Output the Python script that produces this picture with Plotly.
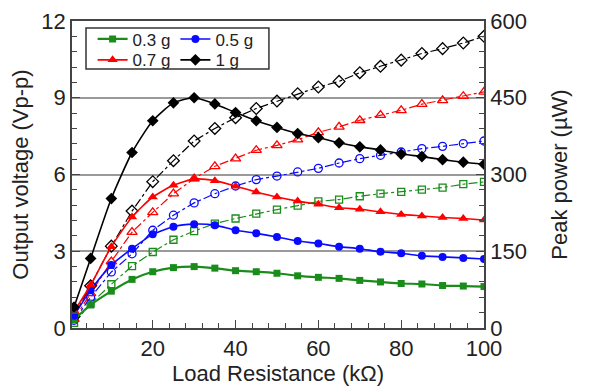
import plotly.graph_objects as go

# Load resistance (kOhm)
x_load = [1, 5, 10, 15, 20, 25, 30, 35, 40, 45, 50, 55, 60, 65, 70, 75, 80, 85, 90, 95, 100]

# Peak power (uW), solid markers, right axis
power_03 = [16, 45, 72, 95, 110, 118, 120, 117, 112, 110, 107, 102, 99, 97, 93, 90, 87, 86, 83, 82, 81]
power_05 = [24, 74, 123, 155, 183, 198, 203, 201, 191, 185, 178, 170, 165, 159, 155, 149, 146, 141, 139, 137, 135]
power_07 = [32, 84, 159, 217, 256, 279, 291, 288, 277, 266, 256, 248, 242, 235, 232, 227, 222, 219, 216, 214, 211]
power_10 = [41, 136, 253, 343, 405, 440, 450, 438, 421, 405, 392, 380, 372, 362, 354, 348, 340, 335, 329, 324, 320]

# Output voltage (Vp-p), open markers, left axis
volt_03 = [0.20, 0.95, 1.71, 2.42, 2.97, 3.45, 3.79, 4.08, 4.28, 4.47, 4.63, 4.78, 4.95, 5.02, 5.15, 5.25, 5.32, 5.41, 5.49, 5.62, 5.71]
volt_05 = [0.30, 1.20, 2.19, 2.90, 3.82, 4.41, 4.89, 5.25, 5.55, 5.80, 5.94, 6.10, 6.24, 6.45, 6.62, 6.75, 6.88, 7.01, 7.10, 7.21, 7.31]
volt_07 = [0.35, 1.35, 2.60, 3.75, 4.52, 5.25, 5.84, 6.32, 6.62, 6.95, 7.14, 7.36, 7.65, 7.86, 8.12, 8.32, 8.51, 8.75, 8.90, 9.06, 9.23]
volt_10 = [0.45, 1.65, 3.20, 4.57, 5.72, 6.54, 7.31, 7.80, 8.22, 8.58, 8.87, 9.16, 9.42, 9.64, 9.98, 10.23, 10.47, 10.73, 10.92, 11.14, 11.40]

labels = ["0.3 g", "0.5 g", "0.7 g", "1 g"]
colors = ["#1a8c1a", "#0a0aff", "#ff0000", "#000000"]
sym_solid = ["square", "circle", "triangle-up", "diamond"]
sym_open = ["square-open", "circle-open", "triangle-up-open", "diamond-open"]
msize = [7, 8, 9, 9]
legend_ids = ["legend", "legend", "legend2", "legend2"]

powers = [power_03, power_05, power_07, power_10]
volts = [volt_03, volt_05, volt_07, volt_10]

FONT = "Liberation Sans, Arial, sans-serif"
fig = go.Figure()

for i in range(4):
    fig.add_trace(go.Scatter(
        x=x_load, y=volts[i], mode="lines+markers", yaxis="y", showlegend=False,
        line=dict(color=colors[i], width=1.2, dash="dashdot"),
        marker=dict(symbol=sym_open[i], size=msize[i], color=colors[i], line=dict(width=1.3, color=colors[i])),
    ))

for i in range(4):
    fig.add_trace(go.Scatter(
        x=x_load, y=powers[i], mode="lines+markers", yaxis="y2", name=labels[i],
        legend=legend_ids[i],
        line=dict(color=colors[i], width=2.2 if i == 0 else 1.6, shape="spline", smoothing=0.6),
        marker=dict(symbol=sym_solid[i], size=msize[i], color=colors[i]),
    ))

axis_col = "#444444"
tickfont = dict(family=FONT, size=22, color="#222222")
titlefont = dict(family=FONT, size=22, color="#222222")

fig.update_layout(
    width=583, height=381,
    margin=dict(l=64, r=107, t=13, b=61),
    plot_bgcolor="white", paper_bgcolor="white",
    font=dict(family=FONT, color="#222222"),
    xaxis=dict(
        range=[0.5, 100], tickvals=[20, 40, 60, 80, 100], automargin=False,
        ticks="inside", ticklen=8, tickwidth=1.3, tickcolor=axis_col,
        minor=dict(dtick=4, tick0=0, ticks="inside", ticklen=5, tickwidth=1.2, tickcolor=axis_col),
        showline=True, linecolor=axis_col, linewidth=1.6, mirror=True,
        showgrid=False, zeroline=False, tickfont=tickfont,
        title=dict(text="Load Resistance (kΩ)", font=titlefont, standoff=0),
    ),
    yaxis=dict(
        range=[0, 12], tickvals=[0, 3, 6, 9, 12], automargin=False,
        ticks="inside", ticklen=8, tickwidth=1.3, tickcolor=axis_col,
        minor=dict(dtick=0.6, tick0=0, ticks="inside", ticklen=5, tickwidth=1.2, tickcolor=axis_col, showgrid=False),
        showline=True, linecolor=axis_col, linewidth=1.6,
        showgrid=True, gridcolor="#9a9a9a", gridwidth=1.5, zeroline=False, tickfont=tickfont,
        title=dict(text="Output voltage (Vp-p)", font=titlefont, standoff=13),
    ),
    yaxis2=dict(
        range=[0, 600], tickvals=[0, 150, 300, 450, 600], overlaying="y", side="right", automargin=False,
        ticks="inside", ticklen=8, tickwidth=1.3, tickcolor=axis_col,
        minor=dict(dtick=30, tick0=0, ticks="inside", ticklen=5, tickwidth=1.2, tickcolor=axis_col),
        showline=True, linecolor=axis_col, linewidth=1.6,
        showgrid=False, zeroline=False, tickfont=tickfont,
        title=dict(text="Peak power (µW)", font=titlefont, standoff=26),
    ),
    legend=dict(orientation="h", x=0.05, xanchor="left", y=0.94, yanchor="middle",
                bgcolor="rgba(0,0,0,0)", font=dict(family=FONT, size=17, color="#222222"),
                itemwidth=30, tracegroupgap=0),
    legend2=dict(orientation="h", x=0.05, xanchor="left", y=0.872, yanchor="middle",
                 bgcolor="rgba(0,0,0,0)", font=dict(family=FONT, size=17, color="#222222"),
                 itemwidth=30, tracegroupgap=0),
    shapes=[dict(type="rect", xref="paper", yref="paper", x0=0.034, x1=0.478, y0=0.844, y1=0.977,
                 line=dict(color="#333333", width=1.5), fillcolor="white", layer="below")],
)

fig.write_html("out.html")
